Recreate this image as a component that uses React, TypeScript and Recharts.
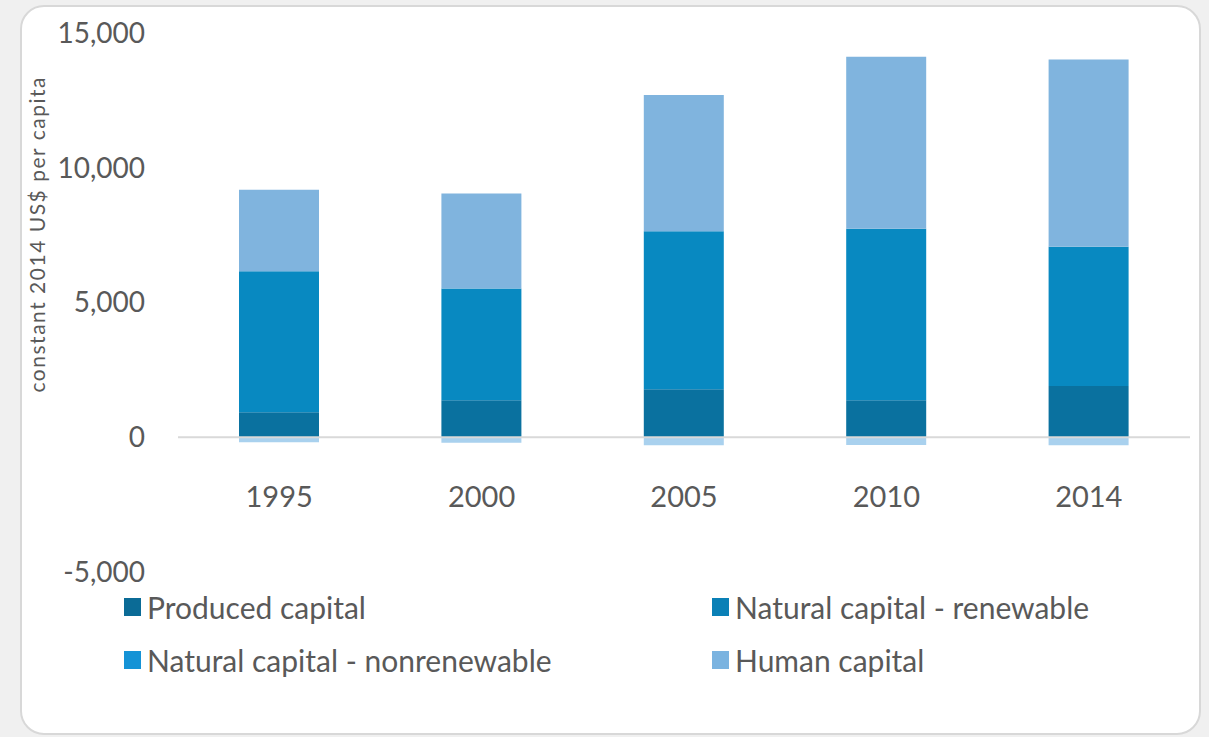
import React from 'react';
import {
  BarChart,
  Bar,
  XAxis,
  YAxis,
  ReferenceLine,
  Legend,
  Label,
} from 'recharts';

const years = ['1995', '2000', '2005', '2010', '2014'];
const produced = [930, 1370, 1780, 1370, 1900];
const renewable = [5230, 4150, 5860, 6370, 5170];
const nonrenewable = [-190, -200, -300, -290, -300];
const human = [3025, 3520, 5060, 6380, 6950];
const yTicks = [-5000, 0, 5000, 10000, 15000];

const seriesNames = [
  'Produced capital',
  'Natural capital - renewable',
  'Natural capital - nonrenewable',
  'Human capital',
];
const seriesKeys = ['produced', 'renewable', 'nonrenewable', 'human'];
const barColors = ['#0a719f', '#0889c1', '#a9d1ee', '#80b4de'];
const legendColors = ['#0b6b96', '#0a80b6', '#1593d6', '#7ab3e0'];

const data = years.map((year, i) => ({
  year,
  produced: produced[i],
  renewable: renewable[i],
  nonrenewable: nonrenewable[i],
  human: human[i],
}));

const FONT = 'Lato, "Open Sans", sans-serif';
const TEXT = '#595959';

const fmt = (v: number) => v.toLocaleString('en-US');

const YearTick = (props: any) => {
  const { x, y, payload } = props;
  return (
    <text
      x={x}
      y={y - 85}
      textAnchor="middle"
      dominantBaseline="central"
      fill={TEXT}
      fontSize={29}
      fontFamily={FONT}
    >
      {payload.value}
    </text>
  );
};

const LegendBox = () => (
  <div
    style={{
      display: 'grid',
      gridTemplateColumns: '588px 500px',
      rowGap: 18,
      fontFamily: FONT,
      fontSize: 30,
      color: TEXT,
    }}
  >
    {seriesNames.map((name, i) => (
      <div key={name} style={{ display: 'flex', alignItems: 'center', height: 35 }}>
        <span
          style={{
            display: 'inline-block',
            width: 17,
            height: 18,
            background: legendColors[i],
            marginRight: 6,
          }}
        />
        {name}
      </div>
    ))}
  </div>
);

export default function App() {
  return (
    <div
      style={{
        position: 'absolute',
        left: 0,
        top: 0,
        width: 1209,
        height: 737,
        background: '#f0f0f0',
        overflow: 'hidden',
      }}
    >
      <div
        style={{
          position: 'absolute',
          left: 20,
          top: 5,
          width: 1181,
          height: 730,
          boxSizing: 'border-box',
          border: '2px solid #d8d8d8',
          borderRadius: 24,
          background: '#ffffff',
        }}
      />
      <div style={{ position: 'absolute', left: 0, top: 0 }}>
        <BarChart
          width={1209}
          height={737}
          data={data}
          stackOffset="sign"
          margin={{ top: 33, right: 19, bottom: 164, left: 0 }}
        >
          <XAxis
            dataKey="year"
            axisLine={false}
            tickLine={false}
            tick={<YearTick />}
            height={1}
          />
          <YAxis
            width={178}
            domain={[-5000, 15000]}
            ticks={yTicks}
            axisLine={false}
            tickLine={false}
            tickSize={0}
            tickMargin={33}
            tickFormatter={fmt}
            tick={{ fill: TEXT, fontSize: 28, fontFamily: FONT }}
          >
            <Label
              content={() => (
                <text
                  x={36}
                  y={235}
                  transform="rotate(-90 36 235)"
                  textAnchor="middle"
                  dominantBaseline="central"
                  fill={TEXT}
                  fontSize={21}
                  fontFamily={FONT}
                  textLength={315}
                  lengthAdjust="spacing"
                >
                  constant 2014 US$ per capita
                </text>
              )}
            />
          </YAxis>
          <ReferenceLine y={0} stroke="#d9d9d9" strokeWidth={2} />
          {seriesKeys.map((key, i) => (
            <Bar
              key={key}
              dataKey={key}
              name={seriesNames[i]}
              stackId="a"
              fill={barColors[i]}
              barSize={80}
              isAnimationActive={false}
            />
          ))}
          <Legend
            layout="horizontal"
            verticalAlign="middle"
            align="center"
            content={<LegendBox />}
            wrapperStyle={{ position: 'absolute', left: 124, top: 589, width: 1080, height: 90 }}
          />
        </BarChart>
      </div>
    </div>
  );
}
